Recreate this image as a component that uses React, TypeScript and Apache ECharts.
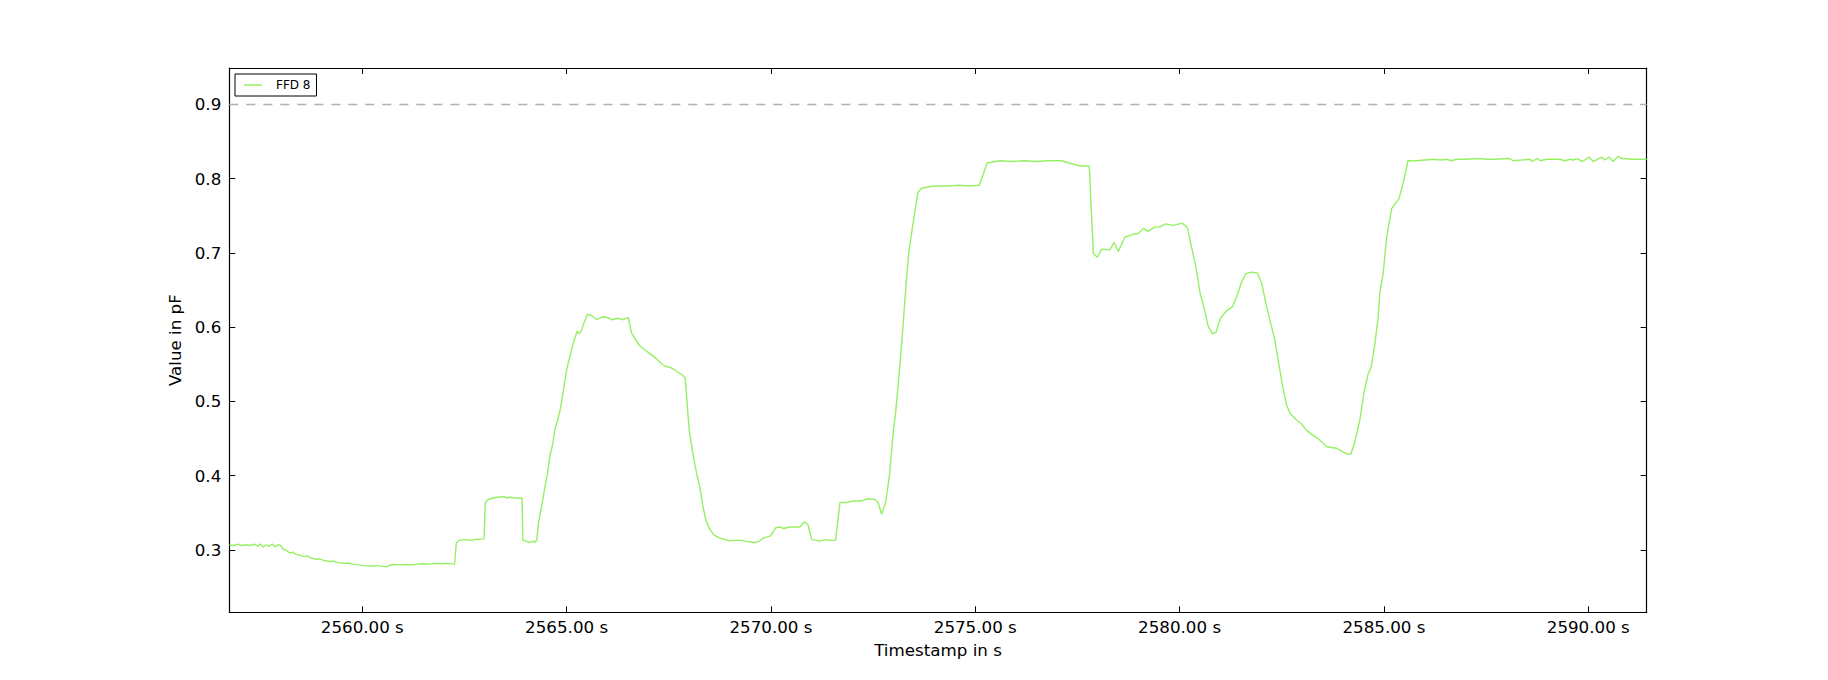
import React, { useEffect, useRef } from "react";
import * as echarts from "echarts";

// ---- data (timestamp in s, value in pF) ----
const SERIES_NAME = "FFD 8";
const X_MIN = 2556.746;
const X_MAX = 2591.43;
const Y_MIN = 0.2161;
const Y_MAX = 0.9489;
const xTickValues = [2560, 2565, 2570, 2575, 2580, 2585, 2590];
const yTickValues = [0.3, 0.4, 0.5, 0.6, 0.7, 0.8, 0.9];
const thresholdLevel = 0.902;

const baselineSegment: [number, number][] = [
  [2556.75, 0.307], [2556.85, 0.306], [2556.95, 0.308], [2557.05, 0.306], [2557.15, 0.307],
  [2557.25, 0.306], [2557.35, 0.308], [2557.45, 0.305], [2557.5, 0.308], [2557.58, 0.304],
  [2557.65, 0.307], [2557.72, 0.305], [2557.8, 0.308], [2557.87, 0.304], [2557.93, 0.307],
  [2558.0, 0.306], [2558.07, 0.301], [2558.15, 0.299], [2558.23, 0.296], [2558.3, 0.297],
  [2558.38, 0.294], [2558.47, 0.293], [2558.56, 0.291], [2558.65, 0.292], [2558.75, 0.289],
  [2558.88, 0.2875], [2558.95, 0.288], [2559.05, 0.286], [2559.21, 0.2845], [2559.3, 0.285],
  [2559.4, 0.283], [2559.54, 0.282], [2559.65, 0.2825], [2559.75, 0.281], [2559.9, 0.28],
  [2560.05, 0.279], [2560.2, 0.2785], [2560.35, 0.279], [2560.5, 0.278], [2560.6, 0.2775],
  [2560.7, 0.28], [2560.78, 0.2805], [2560.9, 0.28], [2561.05, 0.2805], [2561.2, 0.28],
  [2561.35, 0.281], [2561.5, 0.2815], [2561.65, 0.281], [2561.8, 0.282], [2561.95, 0.2815],
  [2562.1, 0.282], [2562.26, 0.281],
];

const stepSegment: [number, number][] = [
  [2562.3, 0.309], [2562.36, 0.313], [2562.5, 0.314], [2562.65, 0.313], [2562.8, 0.3145],
  [2562.98, 0.315], [2563.01, 0.364], [2563.08, 0.368], [2563.2, 0.37], [2563.3, 0.371],
  [2563.45, 0.372], [2563.55, 0.37], [2563.62, 0.371], [2563.75, 0.37], [2563.91, 0.37],
  [2563.93, 0.313], [2564.0, 0.312], [2564.1, 0.31], [2564.18, 0.312], [2564.22, 0.31],
  [2564.27, 0.313],
];

const firstPeakSegment: [number, number][] = [
  [2564.31, 0.336], [2564.4, 0.362], [2564.47, 0.385], [2564.53, 0.402], [2564.59, 0.426],
  [2564.65, 0.44], [2564.71, 0.461], [2564.78, 0.475], [2564.84, 0.488], [2564.92, 0.515],
  [2565.0, 0.542], [2565.04, 0.552], [2565.08, 0.56], [2565.16, 0.578], [2565.22, 0.588],
  [2565.26, 0.595], [2565.3, 0.591], [2565.35, 0.594], [2565.42, 0.605], [2565.51, 0.617],
  [2565.6, 0.616], [2565.74, 0.61], [2565.84, 0.613], [2565.94, 0.614], [2566.04, 0.612],
  [2566.11, 0.61], [2566.26, 0.612], [2566.38, 0.61], [2566.51, 0.613], [2566.59, 0.592],
  [2566.7, 0.582], [2566.79, 0.575], [2566.9, 0.57], [2567.04, 0.564], [2567.14, 0.56],
  [2567.24, 0.555], [2567.34, 0.55], [2567.42, 0.547], [2567.53, 0.546], [2567.63, 0.543],
  [2567.73, 0.539], [2567.82, 0.536], [2567.9, 0.532], [2568.0, 0.461], [2568.09, 0.43],
  [2568.18, 0.403], [2568.26, 0.385], [2568.33, 0.36], [2568.41, 0.34], [2568.5, 0.328],
  [2568.61, 0.32], [2568.75, 0.316],
];

const valleySegment: [number, number][] = [
  [2568.96, 0.3125], [2569.1, 0.313], [2569.28, 0.313], [2569.45, 0.311], [2569.61, 0.31],
  [2569.72, 0.312], [2569.81, 0.316], [2569.99, 0.319], [2570.12, 0.33], [2570.22, 0.331],
  [2570.3, 0.329], [2570.47, 0.331], [2570.71, 0.331], [2570.82, 0.338], [2570.9, 0.335],
  [2571.0, 0.314], [2571.1, 0.313], [2571.2, 0.312], [2571.32, 0.314], [2571.45, 0.313],
  [2571.58, 0.313], [2571.69, 0.364], [2571.85, 0.364], [2572.01, 0.366], [2572.2, 0.366],
  [2572.38, 0.369], [2572.54, 0.368], [2572.62, 0.364], [2572.71, 0.348], [2572.81, 0.365],
];

const plateauSegment: [number, number][] = [
  [2572.9, 0.4], [2572.99, 0.457], [2573.05, 0.485], [2573.11, 0.52], [2573.18, 0.565],
  [2573.24, 0.608], [2573.31, 0.66], [2573.38, 0.704], [2573.48, 0.74], [2573.6, 0.782],
  [2573.69, 0.787], [2573.97, 0.79], [2574.3, 0.79], [2574.62, 0.791], [2574.85, 0.79],
  [2575.1, 0.791], [2575.29, 0.821], [2575.6, 0.824], [2575.9, 0.823], [2576.2, 0.824],
  [2576.5, 0.823], [2576.8, 0.824], [2577.11, 0.824], [2577.36, 0.82], [2577.56, 0.817],
  [2577.79, 0.817],
];

const secondDropSegment: [number, number][] = [
  [2577.89, 0.699], [2577.99, 0.694], [2578.09, 0.705], [2578.29, 0.704], [2578.4, 0.714],
  [2578.5, 0.702], [2578.66, 0.721], [2578.86, 0.725], [2578.99, 0.726], [2579.11, 0.733],
  [2579.23, 0.729], [2579.4, 0.735], [2579.52, 0.735], [2579.66, 0.739], [2579.84, 0.737],
  [2580.07, 0.74], [2580.19, 0.734], [2580.29, 0.708], [2580.4, 0.681], [2580.5, 0.646],
  [2580.59, 0.628], [2580.7, 0.601], [2580.8, 0.591], [2580.89, 0.593], [2581.0, 0.612],
  [2581.15, 0.622], [2581.3, 0.628], [2581.41, 0.643], [2581.52, 0.661], [2581.62, 0.672],
  [2581.76, 0.674], [2581.9, 0.673], [2582.01, 0.659], [2582.11, 0.632], [2582.23, 0.605],
  [2582.33, 0.583], [2582.44, 0.547], [2582.54, 0.515], [2582.62, 0.495], [2582.7, 0.484],
  [2582.86, 0.475], [2582.98, 0.47], [2583.11, 0.461], [2583.25, 0.455], [2583.39, 0.45],
  [2583.6, 0.439], [2583.84, 0.437], [2584.0, 0.432], [2584.1, 0.429], [2584.19, 0.429],
];

const finalSegment: [number, number][] = [
  [2584.29, 0.446], [2584.41, 0.475], [2584.51, 0.511], [2584.61, 0.536], [2584.69, 0.547],
  [2584.78, 0.578], [2584.86, 0.614], [2584.9, 0.646], [2584.98, 0.672], [2585.07, 0.722],
  [2585.19, 0.76], [2585.37, 0.773], [2585.47, 0.794], [2585.59, 0.824], [2585.8, 0.824],
  [2586.0, 0.825], [2586.21, 0.826], [2586.4, 0.825], [2586.53, 0.826], [2586.65, 0.824],
  [2586.78, 0.826], [2587.0, 0.826], [2587.3, 0.827], [2587.5, 0.826], [2587.67, 0.826],
  [2588.08, 0.827], [2588.16, 0.824], [2588.57, 0.826], [2588.63, 0.823], [2588.75, 0.827],
  [2588.83, 0.824], [2588.98, 0.826], [2589.3, 0.826], [2589.43, 0.824], [2589.55, 0.826],
  [2589.63, 0.825], [2589.73, 0.827], [2589.86, 0.823], [2590.02, 0.829], [2590.12, 0.823],
  [2590.33, 0.829], [2590.41, 0.825], [2590.51, 0.829], [2590.61, 0.823], [2590.73, 0.83],
  [2590.81, 0.827], [2591.1, 0.826], [2591.34, 0.826], [2591.43, 0.826],
];

const LINE_COLOR = "#96f064";
const FONT = "DejaVu Sans";

export default function App() {
  const ref = useRef<HTMLDivElement>(null);

  useEffect(() => {
    if (!ref.current) return;
    const chart = echarts.init(ref.current, undefined, { renderer: "svg" });
    const data = [
      ...baselineSegment,
      ...stepSegment,
      ...firstPeakSegment,
      ...valleySegment,
      ...plateauSegment,
      ...secondDropSegment,
      ...finalSegment,
    ];
    const axisLine = { show: true, onZero: false, lineStyle: { color: "#000", width: 1.2 } };
    const tickStyle = { lineStyle: { color: "#000", width: 1 } };

    chart.setOption({
      animation: false,
      backgroundColor: "#fff",
      textStyle: { fontFamily: FONT, color: "#000" },
      grid: { left: 229.3, right: 181.3, top: 68, bottom: 67.7, containLabel: false },
      legend: {
        data: [SERIES_NAME],
        left: 235,
        top: 74,
        orient: "vertical",
        backgroundColor: "#fff",
        borderColor: "#000",
        borderWidth: 1,
        borderRadius: 0,
        padding: [5, 6, 5, 9],
        icon: "rect",
        itemWidth: 18,
        itemHeight: 1.5,
        textStyle: { fontFamily: FONT, fontSize: 12, color: "#000", padding: [0, 0, 0, 9] },
      },
      xAxis: [
        {
          type: "value",
          position: "bottom",
          min: X_MIN,
          max: X_MAX,
          axisLine,
          splitLine: { show: false },
          axisTick: { show: true, inside: true, length: 6, customValues: xTickValues, ...tickStyle },
          axisLabel: {
            show: true,
            customValues: xTickValues,
            formatter: (v: number) => v.toFixed(2) + " s",
            fontFamily: FONT,
            fontSize: 16.7,
            color: "#000",
            margin: 6,
          },
          name: "Timestamp in s",
          nameLocation: "middle",
          nameGap: 29,
          nameTextStyle: { fontFamily: FONT, fontSize: 16.7, color: "#000" },
        },
        {
          type: "value",
          position: "top",
          min: X_MIN,
          max: X_MAX,
          axisLine,
          splitLine: { show: false },
          axisTick: { show: true, inside: true, length: 6, customValues: xTickValues, ...tickStyle },
          axisLabel: { show: false },
        },
      ],
      yAxis: [
        {
          type: "value",
          position: "left",
          min: Y_MIN,
          max: Y_MAX,
          axisLine,
          splitLine: { show: false },
          axisTick: { show: true, inside: true, length: 6, customValues: yTickValues, ...tickStyle },
          axisLabel: {
            show: true,
            customValues: yTickValues,
            formatter: (v: number) => v.toFixed(1),
            fontFamily: FONT,
            fontSize: 16.7,
            color: "#000",
            margin: 8,
          },
          name: "Value in pF",
          nameLocation: "middle",
          nameGap: 35,
          nameRotate: 90,
          nameTextStyle: { fontFamily: FONT, fontSize: 16.7, color: "#000" },
        },
        {
          type: "value",
          position: "right",
          min: Y_MIN,
          max: Y_MAX,
          axisLine,
          splitLine: { show: false },
          axisTick: { show: true, inside: true, length: 6, customValues: yTickValues, ...tickStyle },
          axisLabel: { show: false },
        },
      ],
      series: [
        {
          name: SERIES_NAME,
          type: "line",
          xAxisIndex: 0,
          yAxisIndex: 0,
          data,
          showSymbol: false,
          symbol: "none",
          color: LINE_COLOR,
          lineStyle: { color: LINE_COLOR, width: 1.4 },
          clip: true,
          z: 3,
          markLine: {
            silent: true,
            symbol: ["none", "none"],
            label: { show: false },
            lineStyle: { color: "#b0b0b0", type: [9, 8], width: 1.3 },
            data: [{ yAxis: thresholdLevel }],
          },
        },
      ],
    });

    return () => chart.dispose();
  }, []);

  return (
    <div
      ref={ref}
      style={{ position: "fixed", left: 0, top: 0, width: 1828, height: 680, background: "#fff" }}
    />
  );
}
